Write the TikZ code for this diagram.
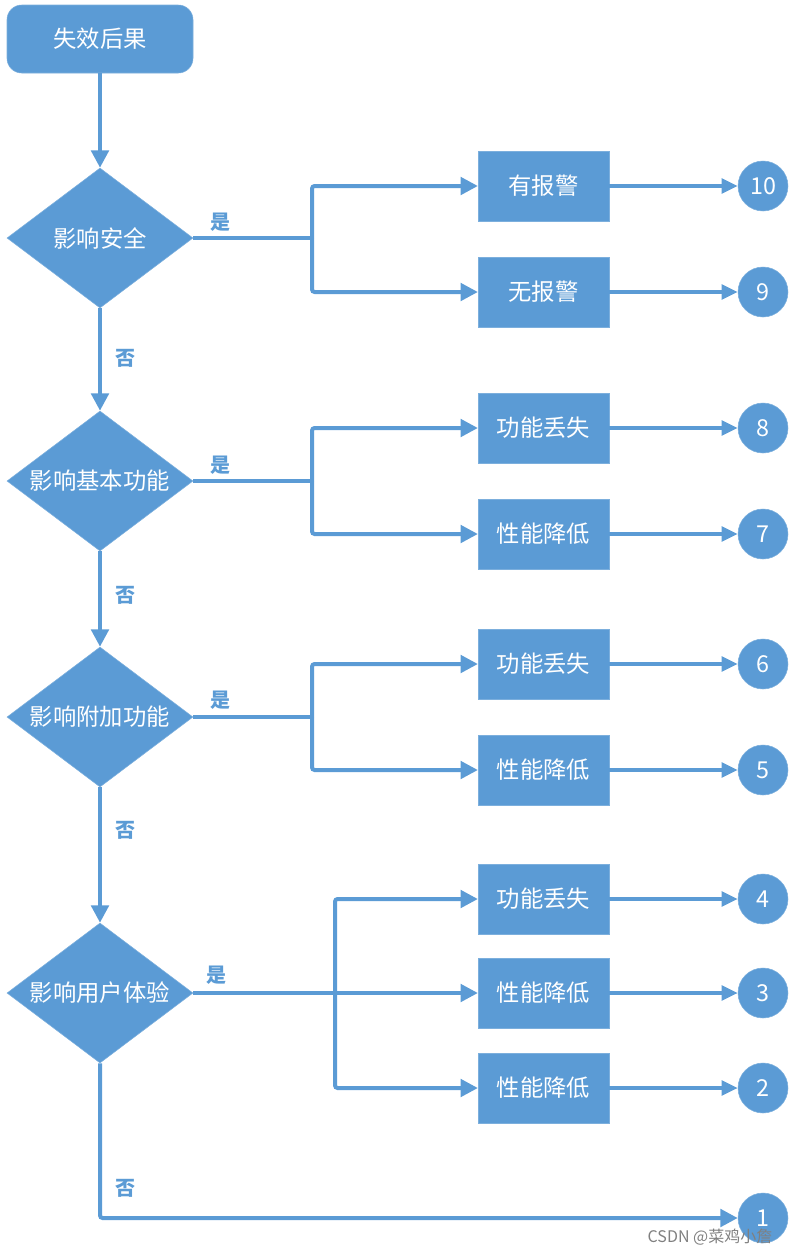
\documentclass[tikz,border=0pt]{standalone}
\usepackage{fontspec}
\setmainfont{Noto Sans CJK SC}
\usetikzlibrary{shapes.geometric,arrows.meta}

\definecolor{flowblue}{HTML}{5B9BD5}

\tikzset{
    base/.style={fill=flowblue, draw=flowblue!80!white, text=white, font=\fontsize{17.5}{19}\selectfont, inner sep=0pt},
    startbox/.style={base, rounded corners=11pt, minimum width=139.5pt, minimum height=51pt},
    decision/.style={base, diamond, aspect=1.33, minimum width=139.5pt, minimum height=105pt},
    resultbox/.style={base, minimum width=98pt, minimum height=52.5pt},
    level/.style={base, circle, minimum size=37.5pt, font=\fontsize{17.5}{19}\selectfont},
    flow/.style={draw=flowblue, line width=3pt, rounded corners=2pt, -{Triangle[length=13pt,width=13pt]}},
    joint/.style={draw=flowblue, line width=3pt, rounded corners=2pt},
    thin flow/.style={draw=flowblue, line width=2.5pt, -{Triangle[length=12pt,width=11pt]}},
    answer/.style={text=flowblue, font=\bfseries\fontsize{15}{16}\selectfont}
}

\begin{document}
\begin{tikzpicture}[x=0.75pt, y=-0.75pt]
        \useasboundingbox (0, 0) rectangle (795, 1254);

        \node[startbox] (start) at (100, 39) {失效后果};

        \node[decision] (safety) at (100, 238) {影响安全};
        \node[decision] (basic) at (100, 481) {影响基本功能};
        \node[decision] (extra) at (100, 717) {影响附加功能};
        \node[decision] (user) at (100, 993) {影响用户体验};

        \node[resultbox] (alarm) at (543.5, 186) {有报警};
        \node[resultbox] (noalarm) at (543.5, 292) {无报警};
        \node[resultbox] (basicloss) at (543.5, 428) {功能丢失};
        \node[resultbox] (basicdrop) at (543.5, 534) {性能降低};
        \node[resultbox] (extraloss) at (543.5, 664) {功能丢失};
        \node[resultbox] (extradrop) at (543.5, 770) {性能降低};
        \node[resultbox] (userloss) at (543.5, 899) {功能丢失};
        \node[resultbox] (userdropa) at (543.5, 993) {性能降低};
        \node[resultbox] (userdropb) at (543.5, 1088) {性能降低};

        \node[level] (l10) at (763, 186) {10};
        \node[level] (l9) at (763, 292) {9};
        \node[level] (l8) at (763, 428) {8};
        \node[level] (l7) at (763, 534) {7};
        \node[level] (l6) at (763, 664) {6};
        \node[level] (l5) at (763, 770) {5};
        \node[level] (l4) at (763, 899) {4};
        \node[level] (l3) at (763, 993) {3};
        \node[level] (l2) at (763, 1088) {2};
        \node[level] (l1) at (763, 1218) {1};

        \coordinate (safetyfork) at (312, 238);
        \coordinate (basicfork) at (312, 481);
        \coordinate (extrafork) at (312, 717);
        \coordinate (userfork) at (335, 993);
        \coordinate (corner) at (100, 1218);

        % main column
        \draw[flow] (start) -- (safety);
        \draw[flow] (safety) -- (basic);
        \draw[flow] (basic) -- (extra);
        \draw[flow] (extra) -- (user);
        \draw[flow] (user.south) -- (corner) -- (l1);

        \node[answer] (no1) at (125, 358) {否};
        \node[answer] (no2) at (125, 595) {否};
        \node[answer] (no3) at (125, 830) {否};
        \node[answer] (no4) at (125, 1188) {否};

        % yes branches
        \draw[joint] (safety.east) -- (safetyfork);
        \draw[flow] (safetyfork) |- (alarm);
        \draw[flow] (safetyfork) |- (noalarm);

        \draw[joint] (basic.east) -- (basicfork);
        \draw[flow] (basicfork) |- (basicloss);
        \draw[flow] (basicfork) |- (basicdrop);

        \draw[joint] (extra.east) -- (extrafork);
        \draw[flow] (extrafork) |- (extraloss);
        \draw[flow] (extrafork) |- (extradrop);

        \draw[flow] (user.east) -- (userdropa);
        \draw[flow] (userfork) |- (userloss);
        \draw[flow] (userfork) |- (userdropb);

        \node[answer] (yes1) at (220, 222) {是};
        \node[answer] (yes2) at (220, 465) {是};
        \node[answer] (yes3) at (220, 700) {是};
        \node[answer] (yes4) at (216, 975) {是};

        % results to levels
        \draw[thin flow] (alarm) -- (l10);
        \draw[thin flow] (noalarm) -- (l9);
        \draw[thin flow] (basicloss) -- (l8);
        \draw[thin flow] (basicdrop) -- (l7);
        \draw[thin flow] (extraloss) -- (l6);
        \draw[thin flow] (extradrop) -- (l5);
        \draw[thin flow] (userloss) -- (l4);
        \draw[thin flow] (userdropa) -- (l3);
        \draw[thin flow] (userdropb) -- (l2);

        \node[text=black!50, font=\fontsize{12}{13}\selectfont] (mark) at (710, 1237) {CSDN @菜鸡小詹};
    \end{tikzpicture}
\end{document}
